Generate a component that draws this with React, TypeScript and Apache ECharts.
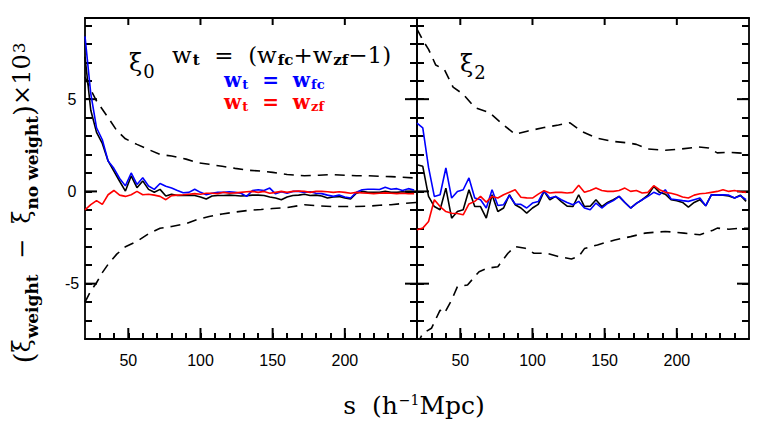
import React, { useEffect, useRef } from "react";
import * as echarts from "echarts";

// separation s (h^-1 Mpc) for the binned solid curves
const sSolid = [
  20, 24, 28, 32, 36, 40, 44, 48, 52, 56,
  60, 64, 68, 72, 76, 80, 84, 88, 92, 96,
  100, 104, 108, 112, 116, 120, 124, 128, 132, 136,
  140, 144, 148, 152, 156, 160, 164, 168, 172, 176,
  180, 184, 188, 192, 196, 200, 204, 208, 212, 216,
  220, 224, 228, 232, 236, 240, 244, 248,
];

// xi_0 panel
const xi0Total = [
  7.3, 4.4, 3.2, 2.6, 1.65, 1.1, 0.55, 0.02, 0.84, 0.2,
  0.57, 0.11, -0.05, 0.11, -0.25, -0.15, -0.22, -0.22, -0.2, -0.22,
  -0.3, -0.41, -0.25, -0.22, -0.22, -0.2, -0.22, -0.25, -0.23, -0.2,
  -0.2, -0.22, -0.3, -0.36, -0.45, -0.3, -0.22, -0.2, -0.15, -0.22,
  -0.2, -0.25, -0.36, -0.3, -0.28, -0.35, -0.41, -0.1, 0.0, -0.05,
  -0.05, -0.05, 0.0, -0.05, -0.05, -0.02, -0.05, -0.05,
];
const xi0Fc = [
  8.4, 5.3, 3.45, 2.8, 1.65, 1.25, 0.7, 0.3, 1.0, 0.38,
  0.74, 0.29, 0.11, 0.43, 0.28, 0.18, 0.05, -0.07, -0.05, 0.12,
  -0.05, -0.18, -0.1, -0.05, -0.05, -0.02, -0.05, -0.1, -0.27, 0.05,
  0.09, 0.05, 0.18, -0.13, -0.02, -0.1, 0.0, 0.0, -0.05, -0.02,
  -0.1, -0.12, -0.2, -0.27, -0.2, -0.3, -0.36, -0.05, 0.09, 0.12,
  0.12, 0.1, 0.22, 0.12, 0.15, 0.05, 0.15, 0.08,
];
const xi0Zf = [
  -1.0, -0.72, -0.5, -0.7, -0.18, 0.05, -0.2, -0.27, -0.18, 0.0,
  -0.18, -0.15, -0.2, -0.27, -0.45, -0.23, -0.2, -0.18, -0.15, -0.12,
  -0.15, -0.1, -0.1, -0.12, -0.05, -0.1, -0.08, -0.05, -0.02, 0.0,
  -0.05, 0.0, -0.1, -0.05, 0.0, -0.05, 0.0, 0.02, 0.0, -0.05,
  0.0, 0.0, -0.02, -0.05, -0.02, -0.05, -0.1, -0.05, -0.08, -0.1,
  -0.12, -0.1, -0.08, -0.1, -0.12, -0.1, -0.13, -0.12,
];
const xi0ErrS = [20, 24, 28, 32, 36, 42, 48, 56, 64, 72, 80, 90, 98, 106, 115, 124, 134, 142, 150, 160, 172, 182, 191, 200, 208, 216, 224, 232, 240, 250];
const xi0ErrUp = [6.2, 5.5, 4.9, 4.45, 4.0, 3.3, 2.85, 2.55, 2.27, 2.0, 1.92, 1.75, 1.55, 1.47, 1.36, 1.25, 1.14, 1.1, 1.03, 0.92, 0.85, 0.88, 0.91, 0.88, 0.85, 0.85, 0.82, 0.8, 0.77, 0.72];
const xi0ErrLow = [-6.0, -5.4, -4.95, -4.4, -3.95, -3.4, -3.0, -2.7, -2.3, -2.0, -1.9, -1.75, -1.52, -1.36, -1.22, -1.12, -1.02, -0.98, -0.93, -0.88, -0.72, -0.78, -0.82, -0.82, -0.82, -0.8, -0.75, -0.72, -0.66, -0.6];

// xi_2 panel
const xi2Total = [
  1.45, 1.36, -0.27, -0.82, -0.99, 0.18, -1.45, -1.09, -0.99, 0.09,
  -0.82, -0.82, -1.45, -0.18, -1.09, -0.9, -0.18, -0.72, -0.9, -1.18,
  -0.9, -0.7, 0.0, -0.45, -0.27, -0.55, -0.8, -0.82, -0.18, -0.82,
  -0.8, -0.45, -0.82, -0.6, -0.45, -0.27, -0.6, -0.9, -0.65, -0.45,
  -0.2, 0.27, -0.05, -0.15, -0.45, -0.5, -0.6, -0.85, -0.6, -0.45,
  -0.78, -0.18, -0.2, -0.2, -0.25, -0.36, -0.2, -0.54,
];
const xi2Fc = [
  3.7, 3.45, 1.3, -0.27, -0.18, 1.27, -0.36, 0.0, 0.09, 0.73,
  -0.36, -0.45, -0.9, 0.09, -0.76, -0.72, -0.22, -0.68, -0.7, -0.9,
  -0.63, -0.55, 0.04, -0.36, -0.27, -0.45, -0.6, -0.72, -0.54, -0.9,
  -0.99, -0.63, -0.9, -0.65, -0.5, -0.27, -0.6, -0.9, -0.65, -0.45,
  -0.27, -0.05, -0.18, 0.09, -0.41, -0.45, -0.5, -0.54, -0.45, -0.36,
  -0.78, -0.18, -0.2, -0.18, -0.2, -0.36, -0.23, -0.45,
];
const xi2Zf = [
  -2.08, -1.99, -1.63, -0.45, -0.82, -1.09, -1.18, -1.2, -1.27, -0.68,
  -0.54, -0.27, -0.58, -0.27, -0.36, -0.18, -0.05, 0.09, -0.32, -0.35,
  -0.36, -0.15, 0.04, -0.09, -0.05, -0.05, -0.09, -0.05, 0.33, -0.05,
  0.05, 0.18, 0.05, 0.0, 0.0, 0.05, 0.18, 0.0, 0.05, -0.09,
  -0.05, 0.31, 0.09, -0.05, -0.1, -0.18, -0.3, -0.36, -0.2, -0.13,
  -0.1, -0.05, 0.0, 0.09, 0.0, 0.05, -0.02, -0.05,
];
const xi2ErrUpS = [20, 24, 28, 33, 39, 45, 52, 60, 70, 80, 88, 97, 108, 118, 126, 134, 144, 155, 166, 172, 180, 192, 203, 215, 222, 228, 235, 242, 250];
const xi2ErrUp = [8.8, 8.2, 7.7, 6.85, 6.6, 5.65, 5.27, 4.55, 4.28, 3.6, 3.1, 3.28, 3.46, 3.6, 3.72, 3.26, 2.9, 2.72, 2.63, 2.55, 2.3, 2.23, 2.3, 2.41, 2.35, 2.09, 2.12, 2.09, 2.05];
const xi2ErrLowS = [20, 24, 30, 36, 39, 44, 48, 55, 63, 69, 76, 83, 88, 95, 101, 110, 118, 127, 132, 136, 145, 157, 168, 178, 192, 205, 216, 225, 228, 236, 245, 250];
const xi2ErrLow = [-8.3, -7.7, -7.42, -6.43, -6.61, -5.89, -5.16, -5.07, -4.35, -4.16, -4.08, -3.35, -2.99, -3.08, -3.35, -3.35, -3.53, -3.66, -3.53, -3.1, -2.9, -2.63, -2.45, -2.26, -2.17, -2.26, -2.35, -2.1, -1.99, -2.05, -1.99, -2.0];

// tick positions
const xMajorTicks = [50, 100, 150, 200];
const yMajorTicks = [-5, 0, 5];
const xTickStep = 10;
const yTickStep = 1;
const xMin = 20;
const xMax = 250;
const yMin = -8;
const yMax = 9.4;

const pair = (xs: number[], ys: number[]) => xs.map((x, i) => [x, ys[i]]);

const SERIF = "DejaVu Serif";
const SANS = "Liberation Sans";

export default function App() {
  const ref = useRef<HTMLDivElement>(null);
  useEffect(() => {
    if (!ref.current) return;
    const chart = echarts.init(ref.current, null, { renderer: "svg" });
    const axisLine = { show: true, onZero: false, lineStyle: { color: "#000", width: 1.8 } };
    const minorTick = (len: number) => ({ show: true, inside: true, length: len, lineStyle: { color: "#000", width: 2 } });
    const grids = [
      { left: 85, top: 18, width: 332, height: 321 },
      { left: 417, top: 18, width: 332, height: 321 },
    ];
    const xAxis: any[] = [];
    const yAxis: any[] = [];
    grids.forEach((_, p) => {
      xAxis.push({
        type: "value", gridIndex: p, min: xMin, max: xMax, interval: xTickStep, position: "bottom",
        axisLine, splitLine: { show: false }, axisTick: minorTick(6),
        axisLabel: {
          show: true, fontSize: 16, color: "#000", fontFamily: SANS, margin: 13, showMinLabel: false, showMaxLabel: false,
          formatter: (v: number) => (xMajorTicks.indexOf(v) >= 0 ? String(v) : ""),
        },
      });
      xAxis.push({
        type: "value", gridIndex: p, min: xMin, max: xMax, position: "top",
        axisLine, splitLine: { show: false }, axisTick: { show: false }, axisLabel: { show: false },
      });
      yAxis.push({
        type: "value", gridIndex: p, min: yMin, max: yMax, interval: yTickStep, position: "left",
        axisLine, splitLine: { show: false }, axisTick: minorTick(7),
        axisLabel: {
          show: p === 0, fontSize: 16, color: "#000", fontFamily: SANS, margin: 13, align: "center",
          showMinLabel: false, showMaxLabel: false,
          formatter: (v: number) => (yMajorTicks.indexOf(v) >= 0 ? String(v) : ""),
        },
      });
      yAxis.push({
        type: "value", gridIndex: p, min: yMin, max: yMax, interval: yTickStep, position: "right",
        axisLine, splitLine: { show: false }, axisTick: minorTick(7), axisLabel: { show: false },
      });
    });

    const line = (p: number, xs: number[], ys: number[], color: string, dashed = false) => ({
      type: "line", xAxisIndex: 2 * p, yAxisIndex: 2 * p, data: pair(xs, ys),
      showSymbol: false, symbol: "none", clip: true, silent: true,
      lineStyle: { color, width: 1.6, type: dashed ? [10, 7] : "solid" },
    });

    const series = [
      line(0, xi0ErrS, xi0ErrUp, "#000", true),
      line(0, xi0ErrS, xi0ErrLow, "#000", true),
      line(0, sSolid, xi0Total, "#000"),
      line(0, sSolid, xi0Fc, "#0000ff"),
      line(0, sSolid, xi0Zf, "#ff0000"),
      line(1, xi2ErrUpS, xi2ErrUp, "#000", true),
      line(1, xi2ErrLowS, xi2ErrLow, "#000", true),
      line(1, sSolid, xi2Total, "#000"),
      line(1, sSolid, xi2Fc, "#0000ff"),
      line(1, sSolid, xi2Zf, "#ff0000"),
    ];

    const rich = (color: string, size: number, subSize: number, bold = false, pad = 0.55) => ({
      m: { fontFamily: SERIF, fontSize: size, lineHeight: size, verticalAlign: "top", fill: color, fontWeight: bold ? "bold" : "normal" },
      sb: { fontFamily: SERIF, fontSize: subSize, lineHeight: subSize, padding: [Math.round(size * pad), 0, 0, 1], verticalAlign: "top", fill: color, fontWeight: "bold" },
      sn: { fontFamily: SERIF, fontSize: subSize, lineHeight: subSize, padding: [Math.round(size * pad), 0, 0, 1], verticalAlign: "top", fill: color, fontWeight: "normal" },
      sp: { fontFamily: SERIF, fontSize: subSize, lineHeight: subSize, padding: [0, 0, 0, 1], verticalAlign: "top", fill: color },
      p: { fontFamily: SERIF, fontSize: size + 4, lineHeight: size, verticalAlign: "top", fill: color },
    });

    const texts: any[] = [
      {
        type: "text", x: 22, y: 203, rotation: Math.PI / 2,
        style: {
          text: "{p|(}{m|ξ}{sb|weight}{m|  −  ξ}{sb|no weight}{p|)}{m|×10}{sp|3}",
          align: "center", verticalAlign: "middle", rich: rich("#000", 24, 17),
        },
      },
      {
        type: "text", x: 414, y: 405,
        style: {
          text: "{m|s  (h}{sp|−1}{m|Mpc)}",
          align: "center", verticalAlign: "middle", rich: rich("#000", 25, 14),
        },
      },
      {
        type: "text", x: 129, y: 63,
        style: { text: "{m|ξ}{sn|0}", align: "left", verticalAlign: "middle", rich: rich("#000", 24, 18, false, 0.45) },
      },
      {
        type: "text", x: 172, y: 55,
        style: { text: "{m|w}{sb|t}{m|  =  (w}{sb|fc}{m|+w}{sb|zf}{m|−1)}", align: "left", verticalAlign: "middle", rich: rich("#000", 23, 15, false, 0.4) },
      },
      {
        type: "text", x: 224, y: 80,
        style: { text: "{m|w}{sb|t}{m|  =  w}{sb|fc}", align: "left", verticalAlign: "middle", rich: rich("#0000ff", 20, 13, true, 0.4) },
      },
      {
        type: "text", x: 224, y: 102,
        style: { text: "{m|w}{sb|t}{m|  =  w}{sb|zf}", align: "left", verticalAlign: "middle", rich: rich("#ff0000", 20, 13, true, 0.4) },
      },
      {
        type: "text", x: 460, y: 64,
        style: { text: "{m|ξ}{sn|2}", align: "left", verticalAlign: "middle", rich: rich("#000", 24, 18, false, 0.45) },
      },
    ];

    chart.setOption({
      animation: false,
      backgroundColor: "#fff",
      grid: grids,
      xAxis,
      yAxis,
      series,
      graphic: texts,
    });

    // longer major ticks (bottom, top, left, right), placed through the axes' scales
    try {
      const tickStyle = { stroke: "#000", lineWidth: 2 };
      const ticks: any[] = [];
      const seg = (x1: number, y1: number, x2: number, y2: number) => {
        ticks.push({ type: "line", shape: { x1, y1, x2, y2 }, style: tickStyle });
      };
      grids.forEach((_, p) => {
        const finder = { xAxisIndex: 2 * p, yAxisIndex: 2 * p };
        const bl = chart.convertToPixel(finder, [xMin, yMin]) as number[];
        const tr = chart.convertToPixel(finder, [xMax, yMax]) as number[];
        xMajorTicks.forEach((v) => {
          const px = (chart.convertToPixel(finder, [v, yMin]) as number[])[0];
          seg(px, bl[1], px, bl[1] - 11);
          seg(px, tr[1], px, tr[1] + 7);
        });
        yMajorTicks.forEach((v) => {
          const py = (chart.convertToPixel(finder, [xMin, v]) as number[])[1];
          seg(bl[0], py, bl[0] + 12, py);
          seg(tr[0], py, tr[0] - 12, py);
        });
      });
      chart.setOption({ graphic: [...texts, ...ticks] });
    } catch (e) {
      // keep the chart as drawn
    }

    return () => chart.dispose();
  }, []);
  return <div ref={ref} style={{ width: 761, height: 423, position: "absolute", left: 0, top: 0 }} />;
}
